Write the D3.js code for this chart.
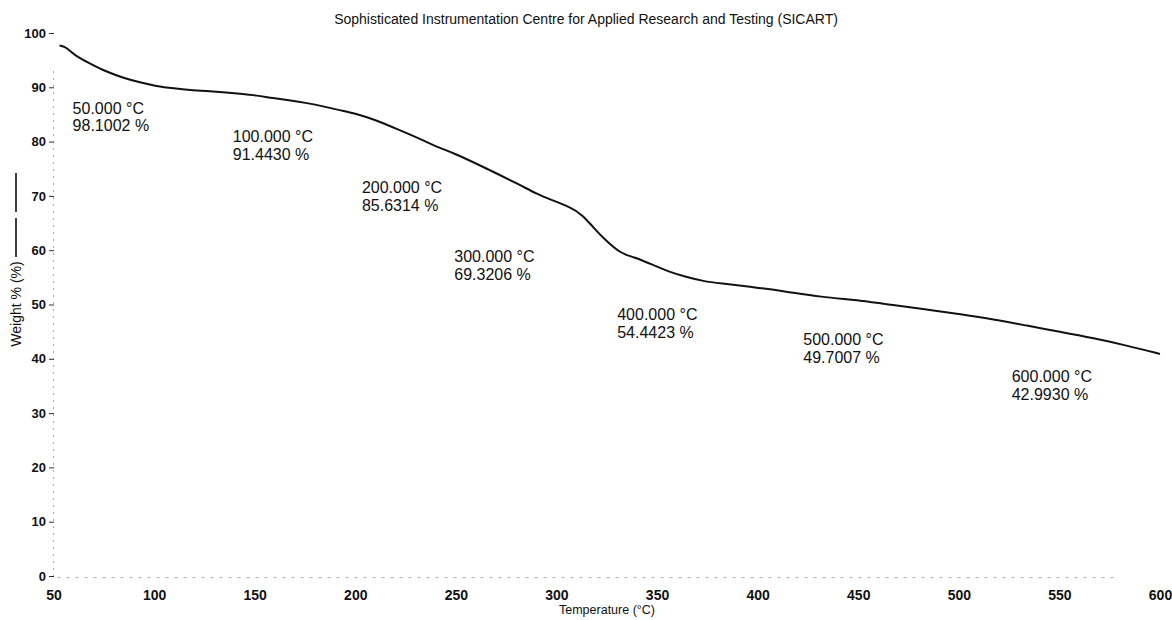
<!DOCTYPE html>
<html>
<head>
<meta charset="utf-8">
<script src="https://cdn.jsdelivr.net/npm/d3@7"></script>
<style>
  body { margin: 0; background: #fff; }
  svg { display: block; font-family: Arial, "Liberation Sans", sans-serif; }
</style>
</head>
<body>
<svg id="chart" width="1172" height="620"></svg>
<script>
// TGA curve
const temps = [53, 56, 60, 68, 76, 85, 93, 101, 110, 118, 126, 134, 143, 151, 159, 168, 176, 184, 192, 201,
  209, 217, 226, 234, 242, 249, 265, 282, 290, 298, 307, 313, 318, 325, 332, 338, 348, 356, 365, 373,
  381, 398, 414, 431, 452, 467, 484, 501, 517, 534, 550, 567, 584, 600]
const weights = [97.7, 97.5, 96.0, 94.4, 92.9, 91.7, 90.9, 90.2, 89.8, 89.5, 89.3, 89.1, 88.8, 88.5, 88.0, 87.6, 87.1, 86.5, 85.8, 85.1,
  84.1, 82.9, 81.5, 80.2, 78.8, 77.9, 75.1, 72.0, 70.4, 69.2, 67.9, 66.5, 64.3, 61.6, 59.4, 58.8, 57.3, 56.0, 55.0, 54.3,
  53.9, 53.2, 52.4, 51.4, 50.7, 49.9, 49.1, 48.2, 47.3, 46.1, 45.0, 43.8, 42.4, 40.9]

// annotation texts
const labelTemps = ["50.000 °C", "100.000 °C", "200.000 °C", "300.000 °C", "400.000 °C", "500.000 °C", "600.000 °C"]
const labelWeights = ["98.1002 %", "91.4430 %", "85.6314 %", "69.3206 %", "54.4423 %", "49.7007 %", "42.9930 %"]
// where each annotation sits, in data units (temperature, weight)
const labelAt = [[59.5, 85.1], [139.1, 79.9], [203.3, 70.5], [249.2, 57.8], [330.2, 47.1], [422.7, 42.5], [526.3, 35.7]]

const xTicks = [50, 100, 150, 200, 250, 300, 350, 400, 450, 500, 550, 600]
const yTicks = [0, 10, 20, 30, 40, 50, 60, 70, 80, 90, 100]

const svg = d3.select("#chart")

const x = d3.scaleLinear().domain([50, 600]).range([53.5, 1160])
const y = d3.scaleLinear().domain([0, 100]).range([576, 33])

// faint dotted frame left by the scan
svg.append("line")
  .attr("x1", x(50)).attr("x2", x(50))
  .attr("y1", y(93)).attr("y2", y(0))
  .attr("stroke", "#aaa").attr("stroke-dasharray", "2,5").attr("stroke-width", 1)
svg.append("line")
  .attr("x1", x(52)).attr("x2", x(580))
  .attr("y1", y(-0.3)).attr("y2", y(-0.3))
  .attr("stroke", "#aaa").attr("stroke-dasharray", "3,6").attr("stroke-width", 1)

// title
svg.append("text")
  .attr("x", 586).attr("y", 24)
  .attr("text-anchor", "middle")
  .style("font-size", "14px")
  .attr("fill", "#111")
  .text("Sophisticated Instrumentation Centre for Applied Research and Testing (SICART)")

// y axis
const yAxis = svg.append("g")
  .attr("transform", "translate(54,0)")
  .call(d3.axisLeft(y).tickValues(yTicks).tickSize(5).tickPadding(3))
yAxis.select(".domain").remove()
yAxis.selectAll("text").style("font-size", "13px").style("font-weight", "bold").attr("fill", "#111")
yAxis.selectAll("line").attr("stroke", "#333")

// x axis
const xAxis = svg.append("g")
  .attr("transform", "translate(0," + y(0) + ")")
  .call(d3.axisBottom(x).tickValues(xTicks).tickSize(0).tickPadding(14))
xAxis.select(".domain").remove()
xAxis.selectAll("text").style("font-size", "14px").style("font-weight", "bold").attr("fill", "#111")

// axis titles
svg.append("text")
  .attr("x", 607).attr("y", 614)
  .attr("text-anchor", "middle")
  .style("font-size", "12.5px")
  .attr("fill", "#111")
  .text("Temperature (°C)")

svg.append("text")
  .attr("transform", "translate(21,304) rotate(-90)")
  .attr("text-anchor", "middle")
  .style("font-size", "14px")
  .attr("fill", "#111")
  .text("Weight % (%)")

// little line sample next to the y title
svg.append("line").attr("x1", 16).attr("x2", 16).attr("y1", 173).attr("y2", 212)
  .attr("stroke", "#111").attr("stroke-width", 1.6)
svg.append("line").attr("x1", 16).attr("x2", 16).attr("y1", 218).attr("y2", 257)
  .attr("stroke", "#111").attr("stroke-width", 1.6)

// curve
const line = d3.line()
  .x((d, i) => x(temps[i]))
  .y(d => y(d))
  .curve(d3.curveBasis)

svg.append("path")
  .datum(weights)
  .attr("d", line)
  .attr("fill", "none")
  .attr("stroke", "#111")
  .attr("stroke-width", 2)

// annotations
const labels = svg.append("g").attr("class", "labels")
labelTemps.forEach((t, i) => {
  const tx = labels.append("text")
    .attr("x", x(labelAt[i][0]))
    .attr("y", y(labelAt[i][1]))
    .style("font-size", "16px")
    .attr("fill", "#111")
  tx.append("tspan").text(t)
  tx.append("tspan").attr("x", x(labelAt[i][0])).attr("dy", 17.5).text(labelWeights[i])
})
</script>
</body>
</html>
